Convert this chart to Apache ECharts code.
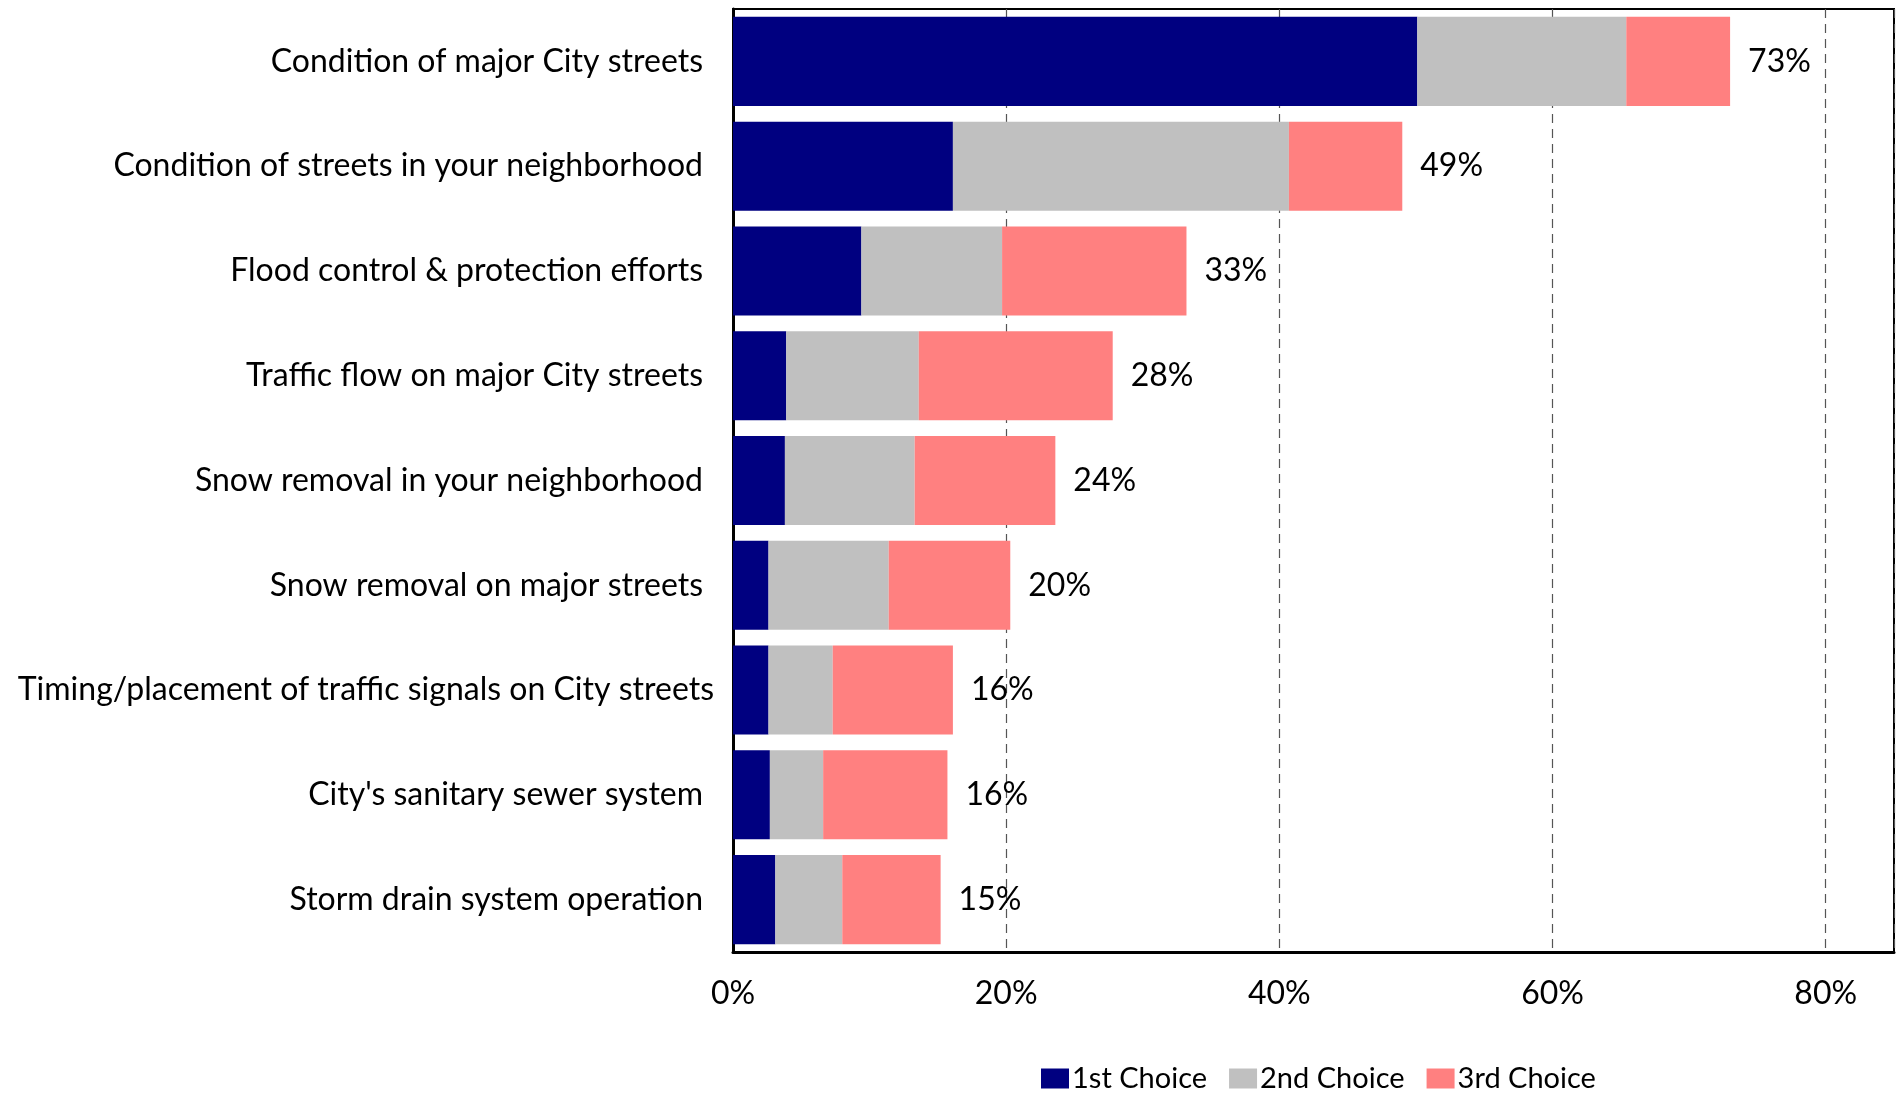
<!DOCTYPE html>
<html>
<head>
<meta charset="utf-8">
<script src="https://cdn.jsdelivr.net/npm/echarts@6/dist/echarts.min.js"></script>
<style>
  html, body { margin: 0; padding: 0; background: #fff; }
  #chart { width: 1898px; height: 1094px; }
</style>
</head>
<body>
<div id="chart"></div>
<script>
// Survey items, top to bottom
const categories = [
  'Condition of major City streets',
  'Condition of streets in your neighborhood',
  'Flood control & protection efforts',
  'Traffic flow on major City streets',
  'Snow removal in your neighborhood',
  'Snow removal on major streets',
  'Timing/placement of traffic signals on City streets',
  "City's sanitary sewer system",
  'Storm drain system operation'
];

// Percent of respondents choosing each item as their 1st / 2nd / 3rd choice
const firstChoice  = [50.1, 16.1, 9.4, 3.9, 3.8, 2.6, 2.6, 2.7, 3.1];
const secondChoice = [15.3, 24.6, 10.3, 9.7, 9.5, 8.8, 4.7, 3.9, 4.9];
const thirdChoice  = [7.6, 8.3, 13.5, 14.2, 10.3, 8.9, 8.8, 9.1, 7.2];

const seriesNames = ['1st Choice', '2nd Choice', '3rd Choice'];
const xTicks = [0, 20, 40, 60, 80];

const FONT = 'Lato';
const totals = categories.map((_, i) => firstChoice[i] + secondChoice[i] + thirdChoice[i]);

const chart = echarts.init(document.getElementById('chart'));

const longest = categories.reduce((a, b) => (b.length > a.length ? b : a));

chart.setOption({
  animation: false,
  textStyle: { fontFamily: FONT },
  grid: {
    left: 733, right: 4, top: 9, bottom: 142,
    show: true, borderColor: '#000', borderWidth: 2,
    containLabel: false
  },
  legend: {
    data: seriesNames,
    left: 1036, top: 1059,
    itemWidth: 28, itemHeight: 20, itemGap: 22,
    icon: 'rect',
    textStyle: { fontFamily: FONT, fontSize: 29, color: '#000', padding: [0, 0, 0, -2] }
  },
  xAxis: {
    type: 'value',
    min: 0, max: 85, interval: 20,
    axisLine: { show: true, lineStyle: { color: '#000', width: 3 } },
    axisTick: { show: false },
    axisLabel: {
      fontFamily: FONT, fontSize: 32, color: '#000', margin: 26,
      showMaxLabel: false,
      formatter: v => (xTicks.includes(v) ? v + '%' : '')
    },
    splitLine: {
      show: true,
      lineStyle: { color: '#555', width: 1.2, type: [9, 6] }
    }
  },
  yAxis: {
    type: 'category',
    inverse: true,
    data: categories.map(c => ({
      value: c,
      textStyle: c === longest ? {} : { padding: [0, 11, 0, 0] }
    })),
    axisLine: { show: true, lineStyle: { color: '#000', width: 3 } },
    axisTick: { show: false },
    axisLabel: { fontFamily: FONT, fontSize: 32, color: '#000', margin: 19 },
    splitLine: { show: false }
  },
  series: [
    {
      name: seriesNames[0], type: 'bar', stack: 'total',
      barCategoryGap: '15%',
      itemStyle: { color: '#000080' },
      data: firstChoice
    },
    {
      name: seriesNames[1], type: 'bar', stack: 'total',
      itemStyle: { color: '#C0C0C0' },
      data: secondChoice
    },
    {
      name: seriesNames[2], type: 'bar', stack: 'total',
      itemStyle: { color: '#FF8080' },
      data: thirdChoice,
      label: {
        show: true, position: 'right', distance: 18,
        fontFamily: FONT, fontSize: 32, color: '#000',
        formatter: p => Math.round(totals[p.dataIndex]) + '%'
      }
    }
  ]
});
</script>
</body>
</html>
